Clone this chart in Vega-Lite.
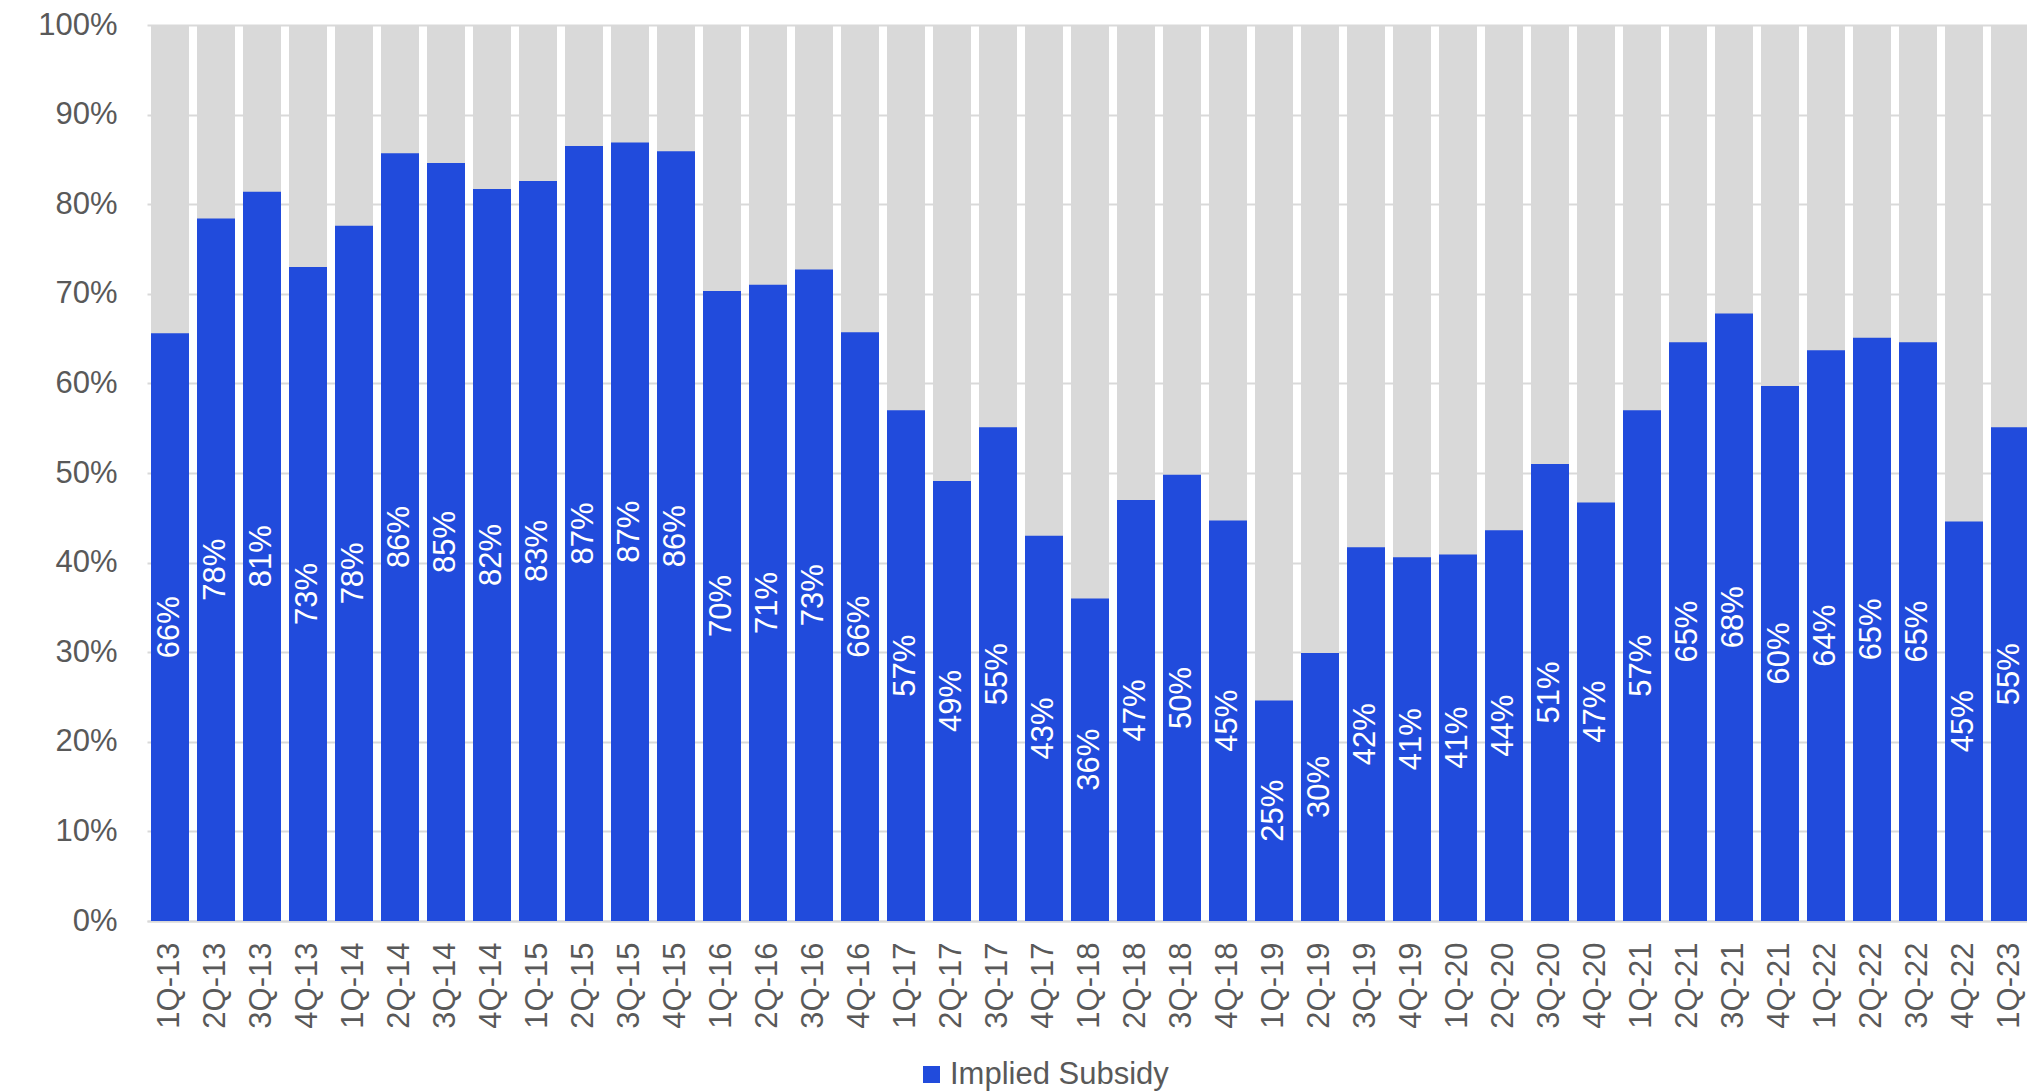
{
  "$schema": "https://vega.github.io/schema/vega-lite/v6.json",
  "autosize": "none",
  "padding": {"left": 147, "top": 25, "right": 0, "bottom": 171},
  "width": 1886,
  "height": 896,
  "background": "white",
  "config": {
    "view": {"stroke": null},
    "font": "Liberation Sans",
    "axis": {"labelFont": "Liberation Sans", "labelColor": "#595959"},
    "legend": {"labelFont": "Liberation Sans"}
  },
  "data": {
    "values": [
      {"quarter": "1Q-13", "value": 0.656},
      {"quarter": "2Q-13", "value": 0.784},
      {"quarter": "3Q-13", "value": 0.814},
      {"quarter": "4Q-13", "value": 0.730},
      {"quarter": "1Q-14", "value": 0.776},
      {"quarter": "2Q-14", "value": 0.857},
      {"quarter": "3Q-14", "value": 0.846},
      {"quarter": "4Q-14", "value": 0.817},
      {"quarter": "1Q-15", "value": 0.826},
      {"quarter": "2Q-15", "value": 0.865},
      {"quarter": "3Q-15", "value": 0.869},
      {"quarter": "4Q-15", "value": 0.859},
      {"quarter": "1Q-16", "value": 0.703},
      {"quarter": "2Q-16", "value": 0.710},
      {"quarter": "3Q-16", "value": 0.727},
      {"quarter": "4Q-16", "value": 0.657},
      {"quarter": "1Q-17", "value": 0.570},
      {"quarter": "2Q-17", "value": 0.491},
      {"quarter": "3Q-17", "value": 0.551},
      {"quarter": "4Q-17", "value": 0.430},
      {"quarter": "1Q-18", "value": 0.360},
      {"quarter": "2Q-18", "value": 0.470},
      {"quarter": "3Q-18", "value": 0.498},
      {"quarter": "4Q-18", "value": 0.447},
      {"quarter": "1Q-19", "value": 0.246},
      {"quarter": "2Q-19", "value": 0.299},
      {"quarter": "3Q-19", "value": 0.417},
      {"quarter": "4Q-19", "value": 0.406},
      {"quarter": "1Q-20", "value": 0.409},
      {"quarter": "2Q-20", "value": 0.436},
      {"quarter": "3Q-20", "value": 0.510},
      {"quarter": "4Q-20", "value": 0.467},
      {"quarter": "1Q-21", "value": 0.570},
      {"quarter": "2Q-21", "value": 0.646},
      {"quarter": "3Q-21", "value": 0.678},
      {"quarter": "4Q-21", "value": 0.597},
      {"quarter": "1Q-22", "value": 0.637},
      {"quarter": "2Q-22", "value": 0.651},
      {"quarter": "3Q-22", "value": 0.646},
      {"quarter": "4Q-22", "value": 0.446},
      {"quarter": "1Q-23", "value": 0.551}
    ]
  },
  "encoding": {
    "x": {
      "field": "quarter",
      "type": "nominal",
      "sort": null,
      "scale": {"paddingInner": 0.174, "paddingOuter": 0.087},
      "axis": {
        "title": null,
        "labelAngle": -90,
        "labelFontSize": 31,
        "labelPadding": 21,
        "ticks": false,
        "domain": true,
        "domainColor": "#d9d9d9",
        "domainWidth": 2,
        "grid": false
      }
    }
  },
  "layer": [
    {
      "mark": {"type": "bar", "color": "#d9d9d9"},
      "encoding": {
        "y": {
          "datum": 1,
          "type": "quantitative",
          "scale": {"domain": [0, 1]},
          "axis": {
            "title": null,
            "format": ".0%",
            "values": [0, 0.1, 0.2, 0.3, 0.4, 0.5, 0.6, 0.7, 0.8, 0.9, 1],
            "labelFontSize": 31,
            "labelPadding": 30,
            "ticks": false,
            "domain": false,
            "grid": true,
            "gridColor": "#d9d9d9",
            "gridWidth": 2
          }
        }
      }
    },
    {
      "mark": {"type": "bar"},
      "encoding": {
        "y": {
          "field": "value",
          "type": "quantitative",
          "scale": {"domain": [0, 1]},
          "axis": null
        },
        "color": {
          "datum": "Implied Subsidy",
          "type": "nominal",
          "scale": {"range": ["#214BDC"]},
          "legend": {
            "title": null,
            "orient": "none",
            "legendX": 769,
            "legendY": 1034,
            "symbolType": "square",
            "symbolSize": 289,
            "symbolStrokeWidth": 0,
            "labelFontSize": 31,
            "labelColor": "#595959",
            "labelOffset": 3,
            "labelLimit": 0
          }
        }
      }
    },
    {
      "mark": {
        "type": "text",
        "color": "white",
        "angle": 270,
        "align": "center",
        "baseline": "middle",
        "fontSize": 31
      },
      "encoding": {
        "y": {
          "field": "value",
          "type": "quantitative",
          "scale": {"domain": [0, 2]},
          "axis": null
        },
        "text": {"field": "value", "type": "quantitative", "format": ".0%"}
      }
    }
  ],
  "resolve": {"scale": {"y": "independent"}}
}
